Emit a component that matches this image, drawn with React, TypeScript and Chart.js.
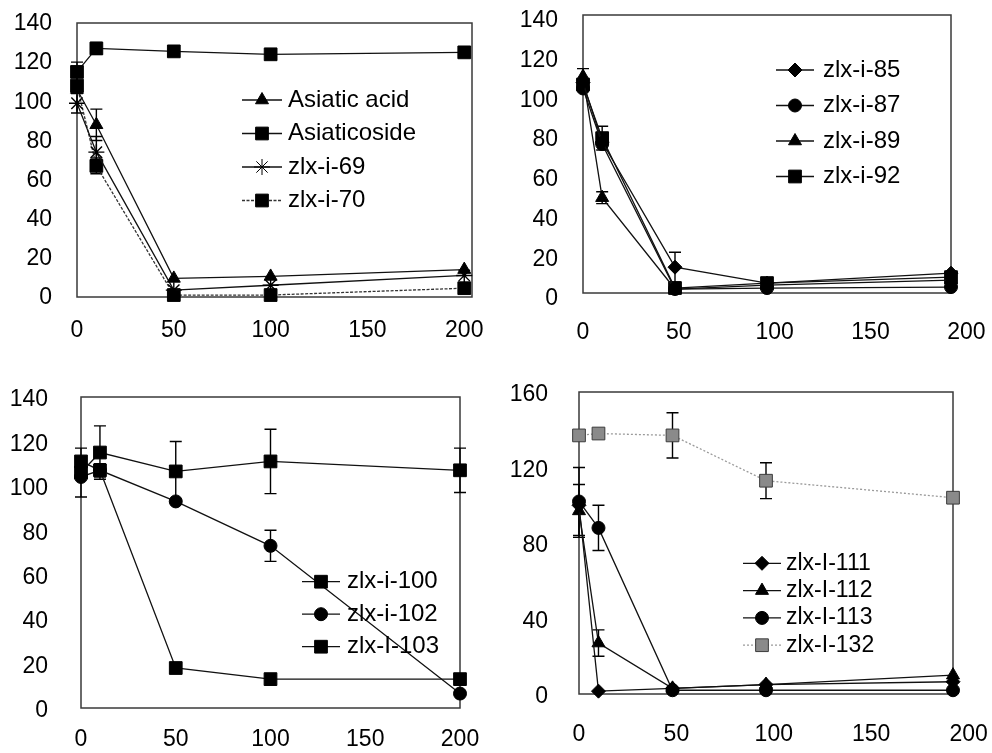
import React, { useEffect, useRef } from 'react';
import { Chart, registerables } from 'chart.js';
import { drawPoint } from 'chart.js/helpers';

Chart.register(...registerables);

// ---------- tick labels ----------
const X_TICKS = [0, 50, 100, 150, 200];
const Y_TICKS_140 = [0, 20, 40, 60, 80, 100, 120, 140];
const Y_TICKS_160 = [0, 40, 80, 120, 160];

// ---------- panel 1 (top-left) ----------
const conc1 = [0, 10, 50, 100, 200];
const asiaticAcid = [106, 88, 9.5, 10.5, 14];
const asiaticAcidErr = [0, 8, 0, 0, 0];
const asiaticoside = [115, 127, 125.5, 124, 125];
const asiaticosideErr = [5, 3, 0, 0, 0];
const zlx69 = [99, 74, 3.5, 6, 11];
const zlx69Err = [5, 8, 0, 0, 0];
const zlx70 = [108, 67, 1, 1, 4.5];
const zlx70Err = [0, 4, 0, 0, 0];

// ---------- panel 2 (top-right) ----------
const conc2 = [0, 10, 48, 96, 192];
const zlx85 = [106, 76, 13, 5, 10];
const zlx85Err = [0, 0, 7.5, 0, 0];
const zlx87 = [103, 75, 2, 2.5, 3];
const zlx89 = [109, 48, 2, 4, 6.5];
const zlx89Err = [4, 3, 0, 0, 0];
const zlx92 = [105, 78, 2.5, 5, 8];
const zlx92Err = [0, 6, 0, 0, 0];

// ---------- panel 3 (bottom-left) ----------
const conc3 = [0, 10, 50, 100, 200];
const zlx100 = [106, 115, 106.5, 111, 107];
const zlx100Err = [11, 12, 13.5, 14.5, 10];
const zlx102 = [104, 107, 93, 73, 6.5];
const zlx102Err = [0, 3, 0, 7, 0];
const zlx103 = [111, 107, 18, 13, 13];

// ---------- panel 4 (bottom-right) ----------
const conc4 = [0, 10, 48, 96, 192];
const zlx111 = [100, 1.5, 3, 5, 6.5];
const zlx112 = [97, 27, 3, 5, 10];
const zlx112Err = [14, 7, 0, 0, 0];
const zlx113 = [102, 88, 2, 2, 2];
const zlx113Err = [18, 12, 0, 0, 0];
const zlx132 = [137, 138, 137, 113, 104];
const zlx132Err = [0, 0, 12, 9.5, 0];

const FONT = '"Liberation Sans", Arial, Helvetica, sans-serif';

type Series = {
  label: string;
  x: number[];
  y: number[];
  err?: number[];
  style: string;
  radius: number;
  fill?: string;
  edge?: string;
  line?: string;
  dash?: number[];
};

type PanelCfg = {
  left: number; top: number; w: number; h: number;
  yW: number; padR: number; padT: number; xH: number;
  xMax: number; yMax: number; yTicks: number[];
  yPad: number; xPad: number; yLabelOffset: number;
  legend: { x: number; y: number; dy: number; len: number; textX: number; size: number };
  series: Series[];
};

const panels: PanelCfg[] = [
  {
    left: 0, top: 0, w: 496, h: 376,
    yW: 77, padR: 24, padT: 23, xH: 79,
    xMax: 204, yMax: 140, yTicks: Y_TICKS_140,
    yPad: 25, xPad: 20, yLabelOffset: 1,
    legend: { x: 242, y: 100, dy: 33.5, len: 40, textX: 288, size: 24 },
    series: [
      { label: 'Asiatic acid', x: conc1, y: asiaticAcid, err: asiaticAcidErr, style: 'triangle', radius: 7.5 },
      { label: 'Asiaticoside', x: conc1, y: asiaticoside, err: asiaticosideErr, style: 'rect', radius: 9 },
      { label: 'zlx-i-69', x: conc1, y: zlx69, err: zlx69Err, style: 'star', radius: 8 },
      { label: 'zlx-i-70', x: conc1, y: zlx70, err: zlx70Err, style: 'rect', radius: 9, line: '#333', dash: [3, 1.5] },
    ],
  },
  {
    left: 496, top: 0, w: 496, h: 376,
    yW: 87, padR: 41, padT: 15, xH: 83,
    xMax: 192, yMax: 140, yTicks: Y_TICKS_140,
    yPad: 25, xPad: 26, yLabelOffset: 6,
    legend: { x: 280, y: 70, dy: 35.5, len: 38, textX: 327, size: 24 },
    series: [
      { label: 'zlx-i-85', x: conc2, y: zlx85, err: zlx85Err, style: 'rectRot', radius: 7 },
      { label: 'zlx-i-87', x: conc2, y: zlx87, style: 'circle', radius: 6.5 },
      { label: 'zlx-i-89', x: conc2, y: zlx89, err: zlx89Err, style: 'triangle', radius: 7.5 },
      { label: 'zlx-i-92', x: conc2, y: zlx92, err: zlx92Err, style: 'rect', radius: 9 },
    ],
  },
  {
    left: 0, top: 376, w: 496, h: 377,
    yW: 81, padR: 36, padT: 21, xH: 45,
    xMax: 200, yMax: 140, yTicks: Y_TICKS_140,
    yPad: 33, xPad: 18, yLabelOffset: 3,
    legend: { x: 302, y: 205.7, dy: 32.5, len: 38, textX: 347, size: 24 },
    series: [
      { label: 'zlx-i-100', x: conc3, y: zlx100, err: zlx100Err, style: 'rect', radius: 9 },
      { label: 'zlx-i-102', x: conc3, y: zlx102, err: zlx102Err, style: 'circle', radius: 6.5 },
      { label: 'zlx-I-103', x: conc3, y: zlx103, style: 'rect', radius: 9 },
    ],
  },
  {
    left: 496, top: 376, w: 496, h: 377,
    yW: 83, padR: 39, padT: 16, xH: 59,
    xMax: 192, yMax: 160, yTicks: Y_TICKS_160,
    yPad: 31, xPad: 27, yLabelOffset: 3,
    legend: { x: 247, y: 187.3, dy: 27.3, len: 38, textX: 290, size: 23 },
    series: [
      { label: 'zlx-I-111', x: conc4, y: zlx111, style: 'rectRot', radius: 7 },
      { label: 'zlx-I-112', x: conc4, y: zlx112, err: zlx112Err, style: 'triangle', radius: 7.5 },
      { label: 'zlx-I-113', x: conc4, y: zlx113, err: zlx113Err, style: 'circle', radius: 6.5 },
      { label: 'zlx-I-132', x: conc4, y: zlx132, err: zlx132Err, style: 'rect', radius: 9, fill: '#8a8a8a', edge: '#3c3c3c', line: '#9a9a9a', dash: [2, 2] },
    ],
  },
];

const framePlugin = {
  id: 'frame',
  beforeDatasetsDraw(chart: any) {
    const { ctx, chartArea: a } = chart;
    ctx.save();
    ctx.strokeStyle = '#3a3a3a';
    ctx.lineWidth = 1.5;
    ctx.strokeRect(a.left, a.top, a.right - a.left, a.bottom - a.top);
    ctx.restore();
  },
};

const errorBarPlugin = {
  id: 'errbars',
  beforeDatasetsDraw(chart: any) {
    const { ctx } = chart;
    const xs = chart.scales.x;
    const ys = chart.scales.y;
    ctx.save();
    ctx.strokeStyle = '#000';
    ctx.lineWidth = 1.4;
    chart.data.datasets.forEach((ds: any) => {
      const errs: number[] | undefined = ds.errors;
      if (!errs) return;
      ds.data.forEach((p: any, i: number) => {
        const e = errs[i];
        if (!e) return;
        const px = xs.getPixelForValue(p.x);
        const t = ys.getPixelForValue(p.y + e);
        const b = ys.getPixelForValue(p.y - e);
        ctx.beginPath();
        ctx.moveTo(px, t); ctx.lineTo(px, b);
        ctx.moveTo(px - 6, t); ctx.lineTo(px + 6, t);
        ctx.moveTo(px - 6, b); ctx.lineTo(px + 6, b);
        ctx.stroke();
      });
    });
    ctx.restore();
  },
};

const legendPlugin = {
  id: 'panelLegend',
  afterDatasetsDraw(chart: any, _args: any, lg: any) {
    const { ctx } = chart;
    ctx.save();
    chart.data.datasets.forEach((ds: any, i: number) => {
      const y = lg.y + i * lg.dy;
      ctx.strokeStyle = ds.borderColor;
      ctx.lineWidth = ds.borderWidth;
      ctx.setLineDash(ds.borderDash || []);
      ctx.beginPath();
      ctx.moveTo(lg.x, y);
      ctx.lineTo(lg.x + lg.len, y);
      ctx.stroke();
      ctx.setLineDash([]);
      ctx.fillStyle = ds.pointBackgroundColor;
      ctx.strokeStyle = ds.pointBorderColor;
      ctx.lineWidth = 1;
      drawPoint(ctx, { pointStyle: ds.pointStyle, radius: ds.pointRadius, rotation: 0, borderWidth: ds.pointStyle === 'star' ? 1.4 : 1 } as any, lg.x + lg.len / 2, y);
      ctx.fillStyle = '#000';
      ctx.font = `${lg.size}px ${FONT}`;
      ctx.textBaseline = 'middle';
      ctx.textAlign = 'left';
      ctx.fillText(ds.label, lg.textX, y);
    });
    ctx.restore();
  },
};

function Panel({ cfg }: { cfg: PanelCfg }) {
  const ref = useRef<HTMLCanvasElement>(null);
  useEffect(() => {
    if (!ref.current) return;
    const chart = new Chart(ref.current, {
      type: 'line',
      data: {
        datasets: cfg.series.map((s) => ({
          label: s.label,
          data: s.x.map((x, i) => ({ x, y: s.y[i] })),
          errors: s.err,
          borderColor: s.line || '#111',
          borderWidth: 1.3,
          borderDash: s.dash || [],
          backgroundColor: s.fill || '#000',
          pointBackgroundColor: s.fill || '#000',
          pointBorderColor: s.edge || '#000',
          pointBorderWidth: s.style === 'star' ? 1.4 : 1,
          pointStyle: s.style,
          pointRadius: s.radius,
          pointHoverRadius: s.radius,
          tension: 0,
          fill: false,
          clip: false,
        })) as any,
      },
      options: {
        animation: false,
        responsive: false,
        devicePixelRatio: 1,
        events: [],
        layout: { padding: { left: 0, right: cfg.padR, top: cfg.padT, bottom: 0 } },
        plugins: {
          legend: { display: false },
          tooltip: { enabled: false },
          panelLegend: cfg.legend,
        } as any,
        scales: {
          x: {
            type: 'linear',
            min: 0,
            max: cfg.xMax,
            afterBuildTicks: (s: any) => { s.ticks = X_TICKS.map((value) => ({ value })); },
            afterFit: (s: any) => { s.height = cfg.xH; s.paddingLeft = 0; s.paddingRight = 0; },
            grid: { display: false, drawTicks: false },
            border: { display: false },
            ticks: { padding: cfg.xPad, color: '#000', font: { family: FONT, size: 23 }, maxRotation: 0, autoSkip: false },
          },
          y: {
            type: 'linear',
            min: 0,
            max: cfg.yMax,
            afterBuildTicks: (s: any) => { s.ticks = cfg.yTicks.map((value) => ({ value })); },
            afterFit: (s: any) => { s.width = cfg.yW; s.paddingTop = 0; s.paddingBottom = 0; },
            grid: { display: false, drawTicks: false },
            border: { display: false },
            ticks: { padding: cfg.yPad, color: '#000', font: { family: FONT, size: 23 }, labelOffset: cfg.yLabelOffset, autoSkip: false },
          },
        },
      } as any,
      plugins: [framePlugin, errorBarPlugin, legendPlugin],
    });
    return () => chart.destroy();
  }, [cfg]);
  return (
    <canvas
      ref={ref}
      width={cfg.w}
      height={cfg.h}
      style={{ position: 'absolute', left: cfg.left, top: cfg.top, width: cfg.w, height: cfg.h }}
    />
  );
}

export default function App() {
  return (
    <div style={{ position: 'absolute', left: 0, top: 0, width: 992, height: 753, background: '#fff' }}>
      {panels.map((p, i) => (
        <Panel key={i} cfg={p} />
      ))}
    </div>
  );
}
